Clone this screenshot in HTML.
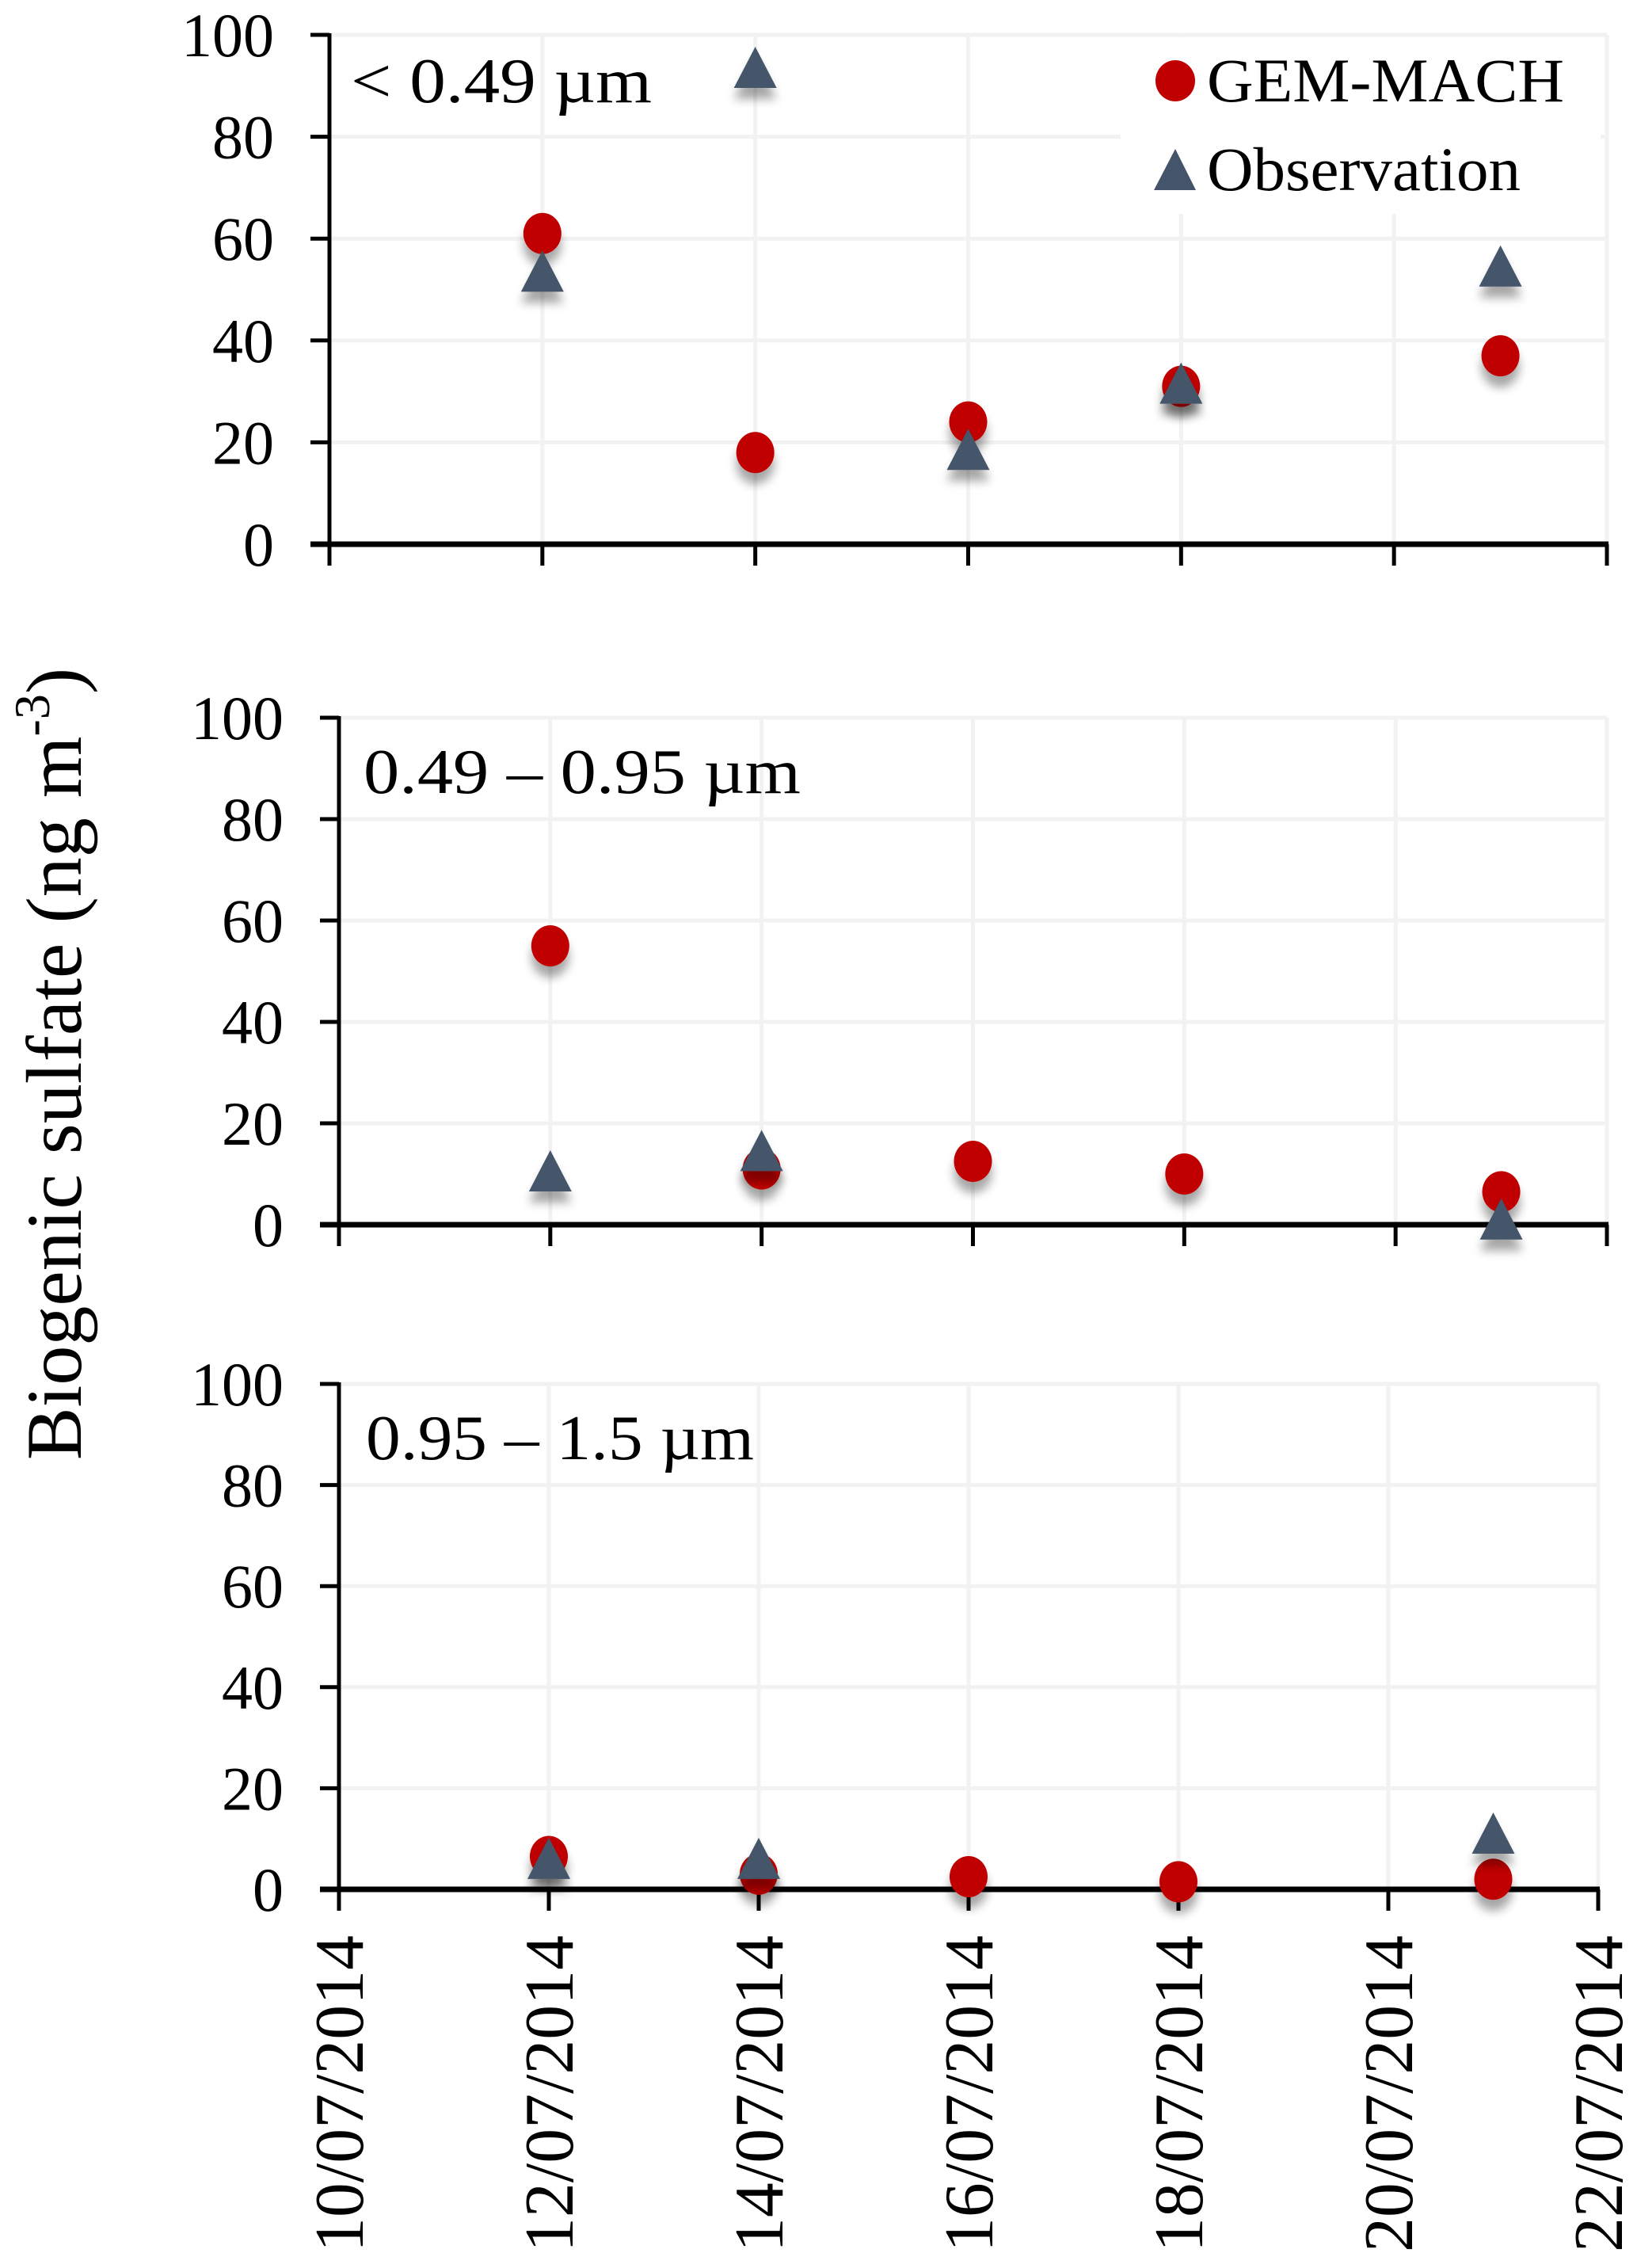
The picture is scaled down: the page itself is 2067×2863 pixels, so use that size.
<!DOCTYPE html>
<html><head><meta charset="utf-8"><style>
html,body{margin:0;padding:0;background:#fff;}
svg{display:block;font-family:"Liberation Serif",serif;}
</style></head><body>
<svg id="chart" width="2067" height="2863" viewBox="0 0 2067 2863" xmlns="http://www.w3.org/2000/svg">
<defs>
<filter id="sh" x="-50%" y="-50%" width="200%" height="250%">
<feGaussianBlur in="SourceAlpha" stdDeviation="6"/>
<feOffset dy="14" result="b"/>
<feComponentTransfer><feFuncA type="linear" slope="0.35"/></feComponentTransfer>
<feMerge><feMergeNode/><feMergeNode in="SourceGraphic"/></feMerge>
</filter>
</defs>
<text transform="translate(102,1343) rotate(-90)" text-anchor="middle" font-size="100">Biogenic sulfate (ng m<tspan font-size="64" dy="-40">-3</tspan><tspan dy="40">)</tspan></text>
</svg>
<script>
const dates = ["10/07/2014","12/07/2014","14/07/2014","16/07/2014","18/07/2014","20/07/2014","22/07/2014"];
const tickDays = [10,12,14,16,18,20,22];
const yTicks = [0,20,40,60,80,100];
const panelLabels = ["< 0.49 µm","0.49 – 0.95 µm","0.95 – 1.5 µm"];
const gemDays = [12,14,16,18,21];
const gemP1 = [61,18,24,31,37];
const gemP2 = [55,11,12.5,10,6.5];
const gemP3 = [6.5,3,2.5,1.5,2];
const obsDaysP1 = [12,14,16,18,21];
const obsP1 = [53,93,18,31,54];
const obsDaysP2 = [12,14,21];
const obsP2 = [10,14,0.5];
const obsDaysP3 = [12,14,21];
const obsP3 = [5.5,5.5,10.5];

const svg = document.getElementById('chart');
const NS = 'http://www.w3.org/2000/svg';
function mk(tag, attrs, parent){const e=document.createElementNS(NS,tag);for(const k in attrs)e.setAttribute(k,attrs[k]);(parent||svg).appendChild(e);return e;}

const layouts = [
  {x0:416,x1:2029,y0:687,y100:44,label:[443,129,380]},
  {x0:428,x1:2029,y0:1546,y100:906,label:[459,1001,552]},
  {x0:428,x1:2018,y0:2385,y100:1747,label:[462,1842,490]}
];
const gemSeries=[gemP1,gemP2,gemP3];
const obsSeries=[obsP1,obsP2,obsP3];
const obsDays=[obsDaysP1,obsDaysP2,obsDaysP3];

layouts.forEach((L,pi)=>{
  const g = mk('g',{});
  
  
  const xs = d => L.x0 + (d-10)/12*(L.x1-L.x0);
  const ys = v => L.y0 - v/100*(L.y0-L.y100);
  yTicks.forEach(t=>{
    if(t>0){const gl=mk('line',{x1:L.x0,x2:L.x1,y1:ys(t),y2:ys(t),stroke:'#f2f2f2','stroke-width':5},g);
    
    }
    const tk=mk('line',{x1:L.x0-24,x2:L.x0,y1:ys(t),y2:ys(t),stroke:'#000','stroke-width':5},g);
    
    
    const tl=mk('text',{x:L.x0-70,y:ys(t)+27,'text-anchor':'end','font-size':78},g);
    
    
    tl.textContent=t;
  });
  tickDays.forEach((d,i)=>{
    if(i>0){const vl=mk('line',{x1:xs(d),x2:xs(d),y1:L.y100,y2:L.y0,stroke:'#f2f2f2','stroke-width':5},g);
    
    }
    const tk=mk('line',{x1:xs(d),x2:xs(d),y1:L.y0,y2:L.y0+27,stroke:'#000','stroke-width':5},g);
    
    
  });
  const ax=mk('line',{x1:L.x0,x2:L.x0,y1:L.y100-2,y2:L.y0,stroke:'#000','stroke-width':5},g);
  
  
  const xa=mk('line',{x1:L.x0-24,x2:L.x1+2,y1:L.y0,y2:L.y0,stroke:'#000','stroke-width':7},g);
  
  
  if(pi===0){
    const lb=mk('rect',{x:1415,y:47,width:606,height:223,fill:'#fff'},g);
    
    
    const c=mk('ellipse',{cx:1484,cy:102,rx:25,ry:26,fill:'#c00000'},g);
    
    
    const t1=mk('text',{x:1524,y:128,'font-size':78,textLength:451,lengthAdjust:'spacingAndGlyphs'},g);
    
    
    t1.textContent='GEM-MACH';
    const tr=mk('path',{d:'M1484,188 L1510,240 L1457,240 Z',fill:'#44546a'},g);
    
    
    const t2=mk('text',{x:1524,y:240,'font-size':78,textLength:396,lengthAdjust:'spacingAndGlyphs'},g);
    
    
    t2.textContent='Observation';
  }
  const pl=mk('text',{x:L.label[0],y:L.label[1],'font-size':80,textLength:L.label[2],lengthAdjust:'spacingAndGlyphs'},g);
  
  
  pl.textContent=panelLabels[pi];
  gemSeries[pi].forEach((v,i)=>{
    const c=mk('ellipse',{cx:xs(gemDays[i]),cy:ys(v),rx:24,ry:26,fill:'#c00000',filter:'url(#sh)'},g);
    
    
  });
  obsSeries[pi].forEach((v,i)=>{
    const x=xs(obsDays[pi][i]), y=ys(v);
    const p=mk('path',{d:`M${x},${y-30} L${x+27},${y+22} L${x-27},${y+22} Z`,fill:'#44546a',filter:'url(#sh)'},g);
    
    
  });
  if(pi===2){
    dates.forEach((d,i)=>{
      const x=xs(tickDays[i]);
      const t=mk('text',{transform:`translate(${x+30},2843) rotate(-90)`,'font-size':88,textLength:400,lengthAdjust:'spacingAndGlyphs'},g);
      
      
      t.textContent=d;
    });
  }
});
</script>
</body></html>
